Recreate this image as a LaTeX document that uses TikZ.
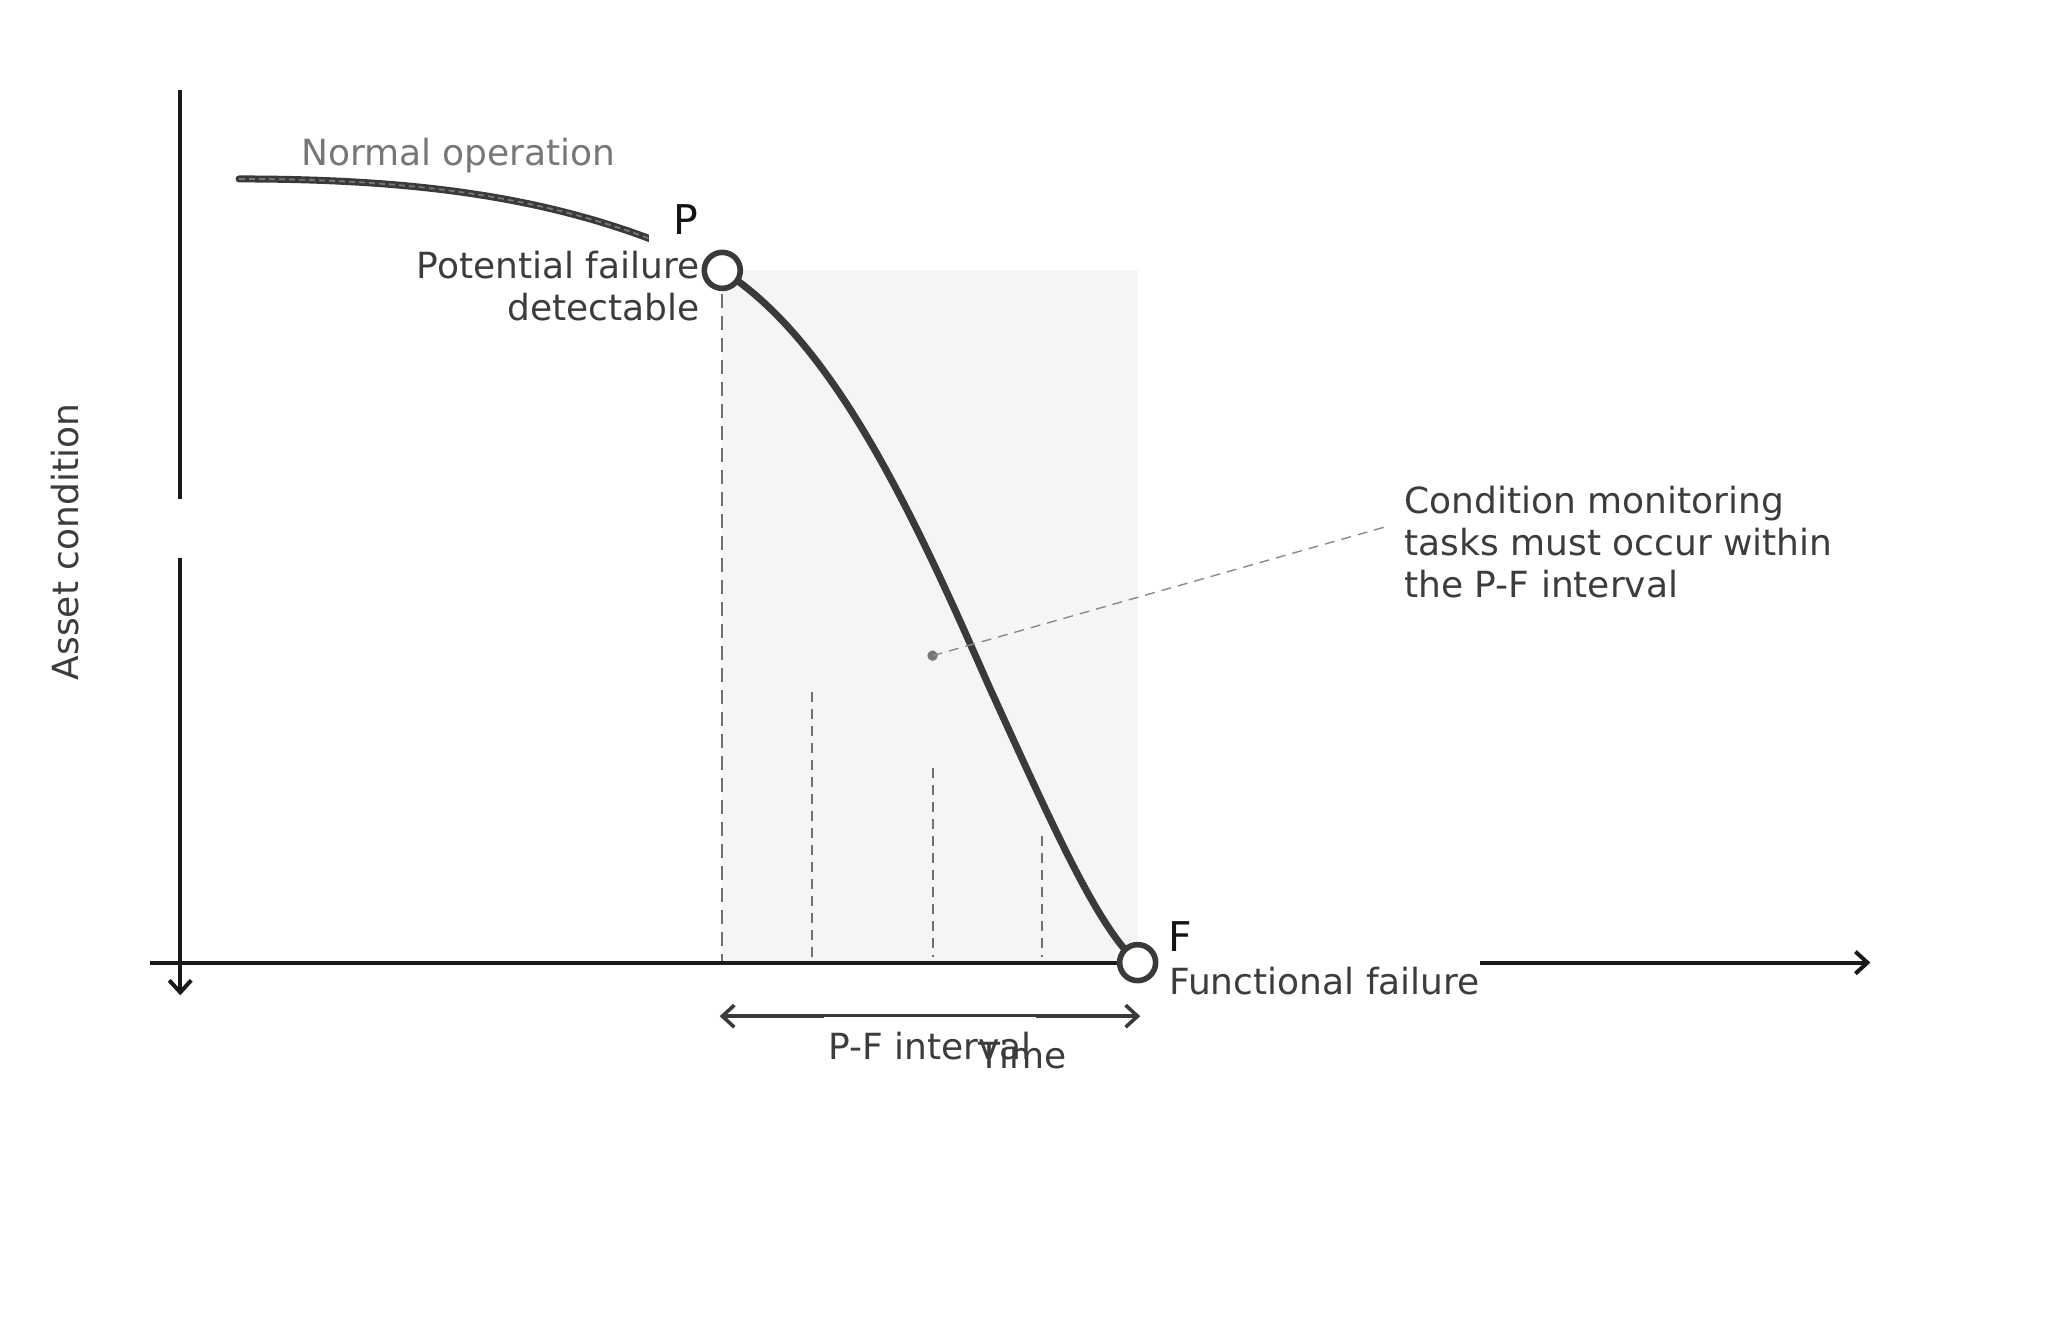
\documentclass[tikz,border=0pt]{standalone}
\usepackage{fontspec}
\setmainfont{DejaVu Sans}
\usetikzlibrary{arrows.meta}
\definecolor{textc}{HTML}{3C3C3C}
\definecolor{normc}{HTML}{777777}
\definecolor{curvec}{HTML}{3A3A37}
\definecolor{axisc}{HTML}{1A1A1A}
\definecolor{dashc}{HTML}{707070}
\definecolor{shadec}{HTML}{F5F5F5}
\definecolor{annc}{HTML}{8A8A8A}
\definecolor{dotc}{HTML}{777777}
\begin{document}
\begin{tikzpicture}[x=0.6531pt,y=-0.6531pt,
  txt/.style={font=\fontsize{18}{21}\selectfont, text=textc},
  bigl/.style={font=\fontsize{20.5}{24}\selectfont, text=black!92},
  ring/.style={circle, draw=curvec, line width=2.8pt, fill=white, minimum size=18pt, inner sep=0pt},
  axisline/.style={draw=axisc, line width=2pt, line cap=butt},
  barbtip/.style={-{Straight Barb[length=6pt,width=11pt]}},
  vdashmain/.style={draw=dashc, line width=1.2pt, dash pattern=on 7pt off 4pt},
  vdashin/.style={draw=dashc, line width=1pt, dash pattern=on 5pt off 3.5pt},
  anndash/.style={draw=annc, line width=0.7pt, dash pattern=on 5pt off 3.5pt},
  curveline/.style={draw=curvec, line width=3.5pt, line cap=round},
]
\useasboundingbox (0,0) rectangle (1568,1014);

% key points
\coordinate (Pc) at (553,207);
\coordinate (Fc) at (871,737);
\coordinate (Mc) at (757,525);
\coordinate (Nstart) at (183,137);
\coordinate (yT) at (138,69);
\coordinate (yG1) at (138,382);
\coordinate (yG2) at (138,427);
\coordinate (yB) at (138,762);
\coordinate (xL) at (115,737);
\coordinate (xR) at (1432,737);
\coordinate (d0t) at (553,225);
\coordinate (d0b) at (553,737);
\coordinate (d1t) at (622,530);
\coordinate (d1b) at (622,733);
\coordinate (d2t) at (714,588);
\coordinate (d2b) at (714,733);
\coordinate (d3t) at (798,640);
\coordinate (d3b) at (798,733);
\coordinate (dot) at (714,502);
\coordinate (annEnd) at (1062,403);
\coordinate (pfL) at (551,778);
\coordinate (pfR) at (873,778);

% shaded P-F region
\fill[shadec] (Pc) rectangle (Fc);

% inspection dashed lines
\draw[vdashmain] (d0t) -- (d0b);
\draw[vdashin] (d1t) -- (d1b);
\draw[vdashin] (d2t) -- (d2b);
\draw[vdashin] (d3t) -- (d3b);

% y axis
\draw[axisline] (yT) -- (yG1);
\draw[axisline, barbtip] (yG2) -- (yB);

% x axis (left part)
\draw[axisline] (xL) -- (Fc);

% normal operation curve
\draw[curveline] (Nstart) .. controls (330,137) and (445,153) .. (Pc);
\draw[draw=normc, line width=0.9pt, dash pattern=on 3pt off 2pt] (Nstart) .. controls (330,137) and (445,153) .. (Pc);

% main failure curve
\draw[curveline] (Pc) .. controls (640,262) and (702,400) .. (Mc) .. controls (805,630) and (840,710) .. (Fc);

% labels near P
\node[bigl, fill=white, inner xsep=12pt, inner ysep=5pt] (plab) at (525,168) {P};
\node[txt, fill=white, align=right, anchor=east] (pfail) at (541,219) {Potential failure\\detectable};

% circles
\node[ring] (P) at (Pc) {};
\node[ring] (F) at (Fc) {};

% labels near F
\node[bigl, inner sep=0pt] (flab) at (904,717) {F};
\node[txt, inner xsep=0pt, anchor=west] (ffail) at (895,751) {Functional failure};
\draw[axisline, barbtip] (ffail.east |- xR) -- (xR);

% annotation
\fill[dotc] (dot) circle (4);
\draw[anndash] (dot) -- (annEnd);
\node[txt, inner sep=0pt, anchor=west, align=left] (cm) at (1075,415) {Condition monitoring\\tasks must occur within\\the P-F interval};

% P-F interval arrow
\draw[draw=curvec, line width=1.8pt, {Straight Barb[length=6pt,width=11pt]}-{Straight Barb[length=6pt,width=11pt]}] (pfL) -- (pfR);
\node[txt, fill=white, anchor=north, inner ysep=0pt, inner xsep=2pt, text height=21.5pt] (pfint) at (712,778) {P-F interval};
\node[txt, inner sep=0pt] (time) at (783,808) {Time};

% other labels
\node[txt, text=normc, inner sep=0pt] (normal) at (351,119) {Normal operation};
\node[txt, rotate=90, inner sep=0pt] (asset) at (50,415) {Asset condition};
\end{tikzpicture}
\end{document}
